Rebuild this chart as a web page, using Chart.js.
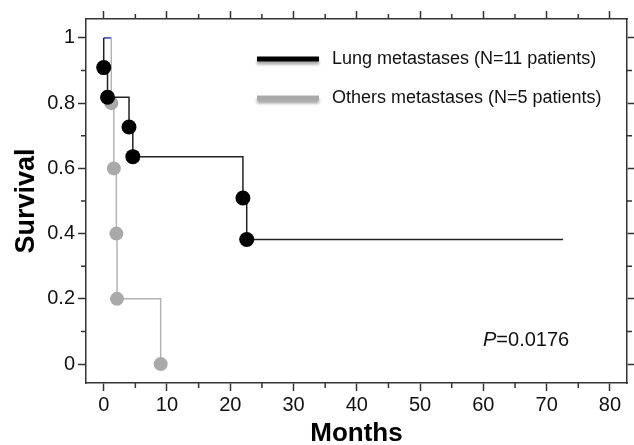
<!DOCTYPE html>
<html>
<head>
<meta charset="utf-8">
<script src="https://cdn.jsdelivr.net/npm/chart.js@4"></script>
<style>
  html, body { margin: 0; padding: 0; background: #fff; }
  #wrap { width: 634px; height: 445px; }
</style>
</head>
<body>
<div id="wrap"><canvas id="kmChart" width="634" height="445"></canvas></div>
<script>
// Kaplan-Meier curves
const lungMonths = [0, 0.6, 4.0, 4.6, 22.0, 22.6];
const lungSurvival = [0.909, 0.818, 0.727, 0.636, 0.509, 0.382];
const lungLastFollowUp = 72.6;

const otherMonths = [1.2, 1.6, 2.0, 2.1, 9.0];
const otherSurvival = [0.8, 0.6, 0.4, 0.2, 0];

const seriesLabels = ['Lung metastases (N=11 patients)', 'Others metastases (N=5 patients)'];
const pValueText = '=0.0176';

const xMajorTicks = [0, 10, 20, 30, 40, 50, 60, 70, 80];
const xMinorTicks = [5, 15, 25, 35, 45, 55, 65, 75];
const yMajorTicks = [0, 0.2, 0.4, 0.6, 0.8, 1];
const yMinorTicks = [0.1, 0.3, 0.5, 0.7, 0.9];

const FONT = "'Liberation Sans', Arial, sans-serif";
const LUNG_COLOR = '#000000';
const OTHER_COLOR = '#a9a9a9';

// step curve points: start at 1, one point per event, lung ends at last follow-up
const lungData = [{ x: 0, y: 1 }]
  .concat(lungMonths.map((m, i) => ({ x: m, y: lungSurvival[i] })))
  .concat([{ x: lungLastFollowUp, y: lungSurvival[lungSurvival.length - 1] }]);
const otherData = [{ x: 0, y: 1 }, { x: otherMonths[0], y: 1 }]
  .concat(otherMonths.map((m, i) => ({ x: m, y: otherSurvival[i] })));

const isNear = (arr, v) => arr.some(a => Math.abs(a - v) < 1e-6);
const fmtY = v => (Math.abs(v) < 1e-6 ? '0' : Math.abs(v - 1) < 1e-6 ? '1' : v.toFixed(1));

// minor ticks (shorter), legend and p value
const extrasPlugin = {
  id: 'extras',
  afterDraw(chart) {
    const ctx = chart.ctx;
    const a = chart.chartArea;
    const sx = chart.scales.x, sy = chart.scales.y;
    ctx.save();
    ctx.strokeStyle = '#333';
    ctx.lineWidth = 1.5;
    ctx.beginPath();
    xMinorTicks.forEach(v => {
      const px = sx.getPixelForValue(v);
      ctx.moveTo(px, a.bottom); ctx.lineTo(px, a.bottom + 5);
      ctx.moveTo(px, a.top); ctx.lineTo(px, a.top - 5);
    });
    yMinorTicks.forEach(v => {
      const py = sy.getPixelForValue(v);
      ctx.moveTo(a.left, py); ctx.lineTo(a.left - 5, py);
      ctx.moveTo(a.right, py); ctx.lineTo(a.right + 5, py);
    });
    ctx.stroke();

    // legend
    const rows = [
      { text: seriesLabels[0], color: LUNG_COLOR, y: 59 },
      { text: seriesLabels[1], color: OTHER_COLOR, y: 98 }
    ];
    rows.forEach(r => {
      ctx.save();
      ctx.shadowColor = 'rgba(0,0,0,0.35)';
      ctx.shadowBlur = 3;
      ctx.shadowOffsetY = 3;
      ctx.strokeStyle = r.color;
      ctx.lineWidth = 5;
      ctx.lineCap = 'butt';
      ctx.beginPath();
      ctx.moveTo(257, r.y); ctx.lineTo(319, r.y);
      ctx.stroke();
      ctx.restore();
      ctx.fillStyle = '#111';
      ctx.font = '18px ' + FONT;
      ctx.textBaseline = 'middle';
      ctx.textAlign = 'left';
      ctx.fillText(r.text, 332, r.y);
    });

    // p value
    ctx.fillStyle = '#111';
    ctx.textBaseline = 'middle';
    ctx.font = 'italic 20px ' + FONT;
    ctx.fillText('P', 483, 340);
    const pw = ctx.measureText('P').width;
    ctx.font = '20px ' + FONT;
    ctx.fillText(pValueText, 483 + pw, 340);
    ctx.restore();
  }
};

const gridOpts = (majorTest) => ({
  drawOnChartArea: false,
  drawTicks: true,
  tickLength: 8,
  tickWidth: 1.5,
  tickColor: c => (c.tick && majorTest(c.tick.value) ? '#333' : 'rgba(0,0,0,0)')
});
const borderOpts = { display: true, color: '#333', width: 1.5 };

new Chart(document.getElementById('kmChart'), {
  type: 'line',
  data: {
    datasets: [{
      label: seriesLabels[0],
      data: lungData,
      stepped: true,
      borderColor: '#222',
      borderWidth: 1.5,
      pointRadius: c => (c.dataIndex === 0 || c.dataIndex === lungData.length - 1 ? 0 : 7.5),
      pointBackgroundColor: LUNG_COLOR,
      pointBorderColor: LUNG_COLOR,
      pointBorderWidth: 0,
      fill: false
    }, {
      label: seriesLabels[1],
      data: otherData,
      stepped: true,
      borderColor: '#b3b3b3',
      borderWidth: 1.5,
      segment: {
        borderColor: c => (c.p0DataIndex === 0 ? '#3040c0' : '#b3b3b3')
      },
      pointRadius: c => (c.dataIndex < 2 ? 0 : 7),
      pointBackgroundColor: OTHER_COLOR,
      pointBorderColor: OTHER_COLOR,
      pointBorderWidth: 0,
      fill: false
    }]
  },
  options: {
    responsive: false,
    animation: false,
    layout: { padding: 0 },
    plugins: {
      legend: { display: false },
      tooltip: { enabled: false }
    },
    scales: {
      x: {
        type: 'linear',
        position: 'bottom',
        min: -2.8,
        max: 82.7,
        afterBuildTicks: s => { s.ticks = xMajorTicks.concat(xMinorTicks).sort((p, q) => p - q).map(v => ({ value: v })); },
        afterFit: s => { s.height = 62; },
        ticks: {
          autoSkip: false,
          maxRotation: 0,
          padding: 2,
          color: '#111',
          font: { family: FONT, size: 20 },
          callback: v => (isNear(xMajorTicks, v) ? String(v) : '')
        },
        grid: gridOpts(v => isNear(xMajorTicks, v)),
        border: borderOpts,
        title: {
          display: true,
          text: 'Months',
          color: '#000',
          font: { family: FONT, size: 26, weight: 'bold', lineHeight: 1 },
          padding: { top: 0, bottom: -2 }
        }
      },
      x2: {
        type: 'linear',
        position: 'top',
        min: -2.8,
        max: 82.7,
        afterBuildTicks: s => { s.ticks = xMajorTicks.map(v => ({ value: v })); },
        afterFit: s => { s.height = 19; },
        ticks: { autoSkip: false, callback: () => '' },
        grid: gridOpts(() => true),
        border: borderOpts
      },
      y: {
        type: 'linear',
        position: 'left',
        min: -0.058,
        max: 1.058,
        afterBuildTicks: s => { s.ticks = yMajorTicks.concat(yMinorTicks).sort((p, q) => p - q).map(v => ({ value: v })); },
        afterFit: s => { s.width = 86; },
        ticks: {
          autoSkip: false,
          padding: 3,
          color: '#111',
          font: { family: FONT, size: 20 },
          callback: v => (isNear(yMajorTicks, v) ? fmtY(v) : '')
        },
        grid: gridOpts(v => isNear(yMajorTicks, v)),
        border: borderOpts,
        title: {
          display: true,
          text: 'Survival',
          color: '#000',
          font: { family: FONT, size: 27, weight: 'bold', lineHeight: 1 },
          padding: { top: 13, bottom: 0 }
        }
      },
      y2: {
        type: 'linear',
        position: 'right',
        min: -0.058,
        max: 1.058,
        afterBuildTicks: s => { s.ticks = yMajorTicks.map(v => ({ value: v })); },
        afterFit: s => { s.width = 5; },
        ticks: { autoSkip: false, callback: () => '' },
        grid: gridOpts(() => true),
        border: borderOpts
      }
    }
  },
  plugins: [extrasPlugin]
});
</script>
</body>
</html>
